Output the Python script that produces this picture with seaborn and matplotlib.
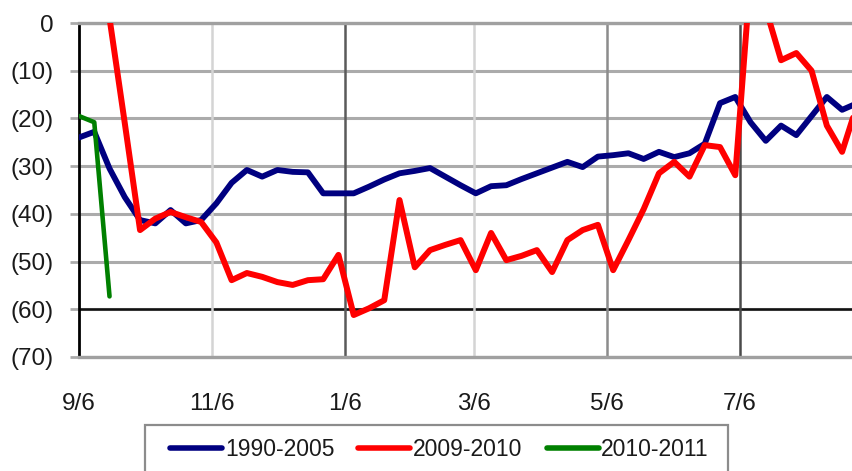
import numpy as np
import pandas as pd
import seaborn as sns
import matplotlib
matplotlib.use("Agg")
import matplotlib.pyplot as plt
from matplotlib.patches import Rectangle

# ---------------- data ----------------
weeks = list(range(52))
days = [7 * w for w in weeks]

blue_1990_2005 = [-24, -22.8, -30.5, -36.5, -41.3, -42, -39.2, -42, -41.3, -37.8,
                  -33.5, -30.8, -32.2, -30.8, -31.2, -31.3, -35.7, -35.7, -35.7, -34.3,
                  -32.8, -31.5, -31, -30.4, -32.2, -34, -35.7, -34.2, -34, -32.7,
                  -31.5, -30.3, -29.1, -30.2, -28, -27.7, -27.3, -28.5, -27, -28.1,
                  -27.3, -25.3, -16.8, -15.5, -20.8, -24.7, -21.5, -23.5, -19.5, -15.5,
                  -18.2, -16.8]

red_2009_2010 = [np.nan, np.nan, 1, -21, -43.4, -41, -39.6, -40.7, -41.7, -46,
                 -53.9, -52.4, -53.2, -54.3, -54.9, -53.9, -53.7, -48.6, -61.2, -59.8,
                 -58.1, -37.1, -51.2, -47.6, -46.5, -45.5, -51.8, -44, -49.7, -48.8,
                 -47.6, -52.2, -45.5, -43.4, -42.3, -51.8, -45.5, -39, -31.5, -29.1,
                 -32.2, -25.6, -26, -31.9, 10, 3, -7.8, -6.3, -10, -21.5,
                 -27, -17]

green_2010_2011 = [-19.5, -20.8, -57.3] + [np.nan] * 49

series_names = ["1990-2005", "2009-2010", "2010-2011"]
series_colors = ["#000080", "#FF0000", "#008000"]

xtick_days = [0, 61, 122, 181, 242, 303]
xtick_labels = ["9/6", "11/6", "1/6", "3/6", "5/6", "7/6"]
vgrid_colors = ["#000000", "#d4d4d4", "#5a5a5a", "#d4d4d4", "#8c8c8c", "#4a4a4a"]

yticks = [0, -10, -20, -30, -40, -50, -60, -70]
ytick_labels = ["0", "(10)", "(20)", "(30)", "(40)", "(50)", "(60)", "(70)"]

df = pd.concat([
    pd.DataFrame({"day": days, "value": blue_1990_2005, "series": series_names[0]}),
    pd.DataFrame({"day": days, "value": red_2009_2010, "series": series_names[1]}),
    pd.DataFrame({"day": days, "value": green_2010_2011, "series": series_names[2]}),
], ignore_index=True)

# ---------------- style ----------------
sns.set_style("white")
plt.rcParams["font.family"] = ["Liberation Sans", "DejaVu Sans"]
FS = 17.5
LFS = 16.5

W, H = 853, 471
fig = plt.figure(figsize=(W / 100, H / 100), dpi=100)
ax = fig.add_axes([79 / W, 1 - 357 / H, (W - 79) / W, (357 - 23) / H])

widths = [4.2, 4.3, 3.3]
for name, col, lw in zip(series_names, series_colors, widths):
    sub = df[df["series"] == name].dropna()
    sns.lineplot(data=sub, x="day", y="value", color=col, linewidth=lw,
                 ax=ax, label=name, zorder=4, sort=False)

ax.set_xlim(0, 355)
ax.set_ylim(-70, 0)

# gridlines
ax.set_yticks(yticks)
ax.set_yticklabels(ytick_labels)
ax.set_xticks(xtick_days)
ax.set_xticklabels(xtick_labels)
ax.yaxis.grid(True, color="#ababab", linewidth=2.2, zorder=1)
ax.xaxis.grid(False)
ax.set_axisbelow(True)
ax.axhline(-60, color="#111111", linewidth=1.8, zorder=2)
for d, c in zip(xtick_days[1:], vgrid_colors[1:]):
    ax.axvline(d, color=c, linewidth=1.8, zorder=2)

ax.spines["right"].set_visible(False)
ax.spines["left"].set_color("#000000")
ax.spines["left"].set_linewidth(2)
ax.spines["top"].set_color("#a0a0a0")
ax.spines["top"].set_linewidth(2.4)
ax.spines["bottom"].set_color("#a0a0a0")
ax.spines["bottom"].set_linewidth(2.4)

ax.tick_params(axis="y", length=6.5, width=2, color="#ababab", pad=12,
               labelsize=FS, labelcolor="#1a1a1a", left=True)
ax.tick_params(axis="x", length=0, pad=26, labelsize=FS, labelcolor="#1a1a1a")
ax.set_xlabel("")
ax.set_ylabel("")

# legend
leg_old = ax.get_legend()
if leg_old is not None:
    leg_old.remove()
handles = ax.get_lines()[:3]
leg = fig.legend(handles, series_names, loc="center left",
                 bbox_to_anchor=(170 / W, 1 - 450 / H), bbox_transform=fig.transFigure,
                 ncol=3, frameon=False, fontsize=LFS, handlelength=2.27,
                 handletextpad=0.12, columnspacing=1.05, borderpad=0, borderaxespad=0)
for t in leg.get_texts():
    t.set_color("#1a1a1a")
for lh in leg.get_lines():
    lh.set_linewidth(4.0)
fig.patches.append(Rectangle((145 / W, -0.05), (728 - 145) / W, (1 - 425 / H) + 0.05,
                             transform=fig.transFigure, facecolor="none",
                             edgecolor="#8c8c8c", linewidth=1.6))

fig.savefig("out.png", dpi=100)
